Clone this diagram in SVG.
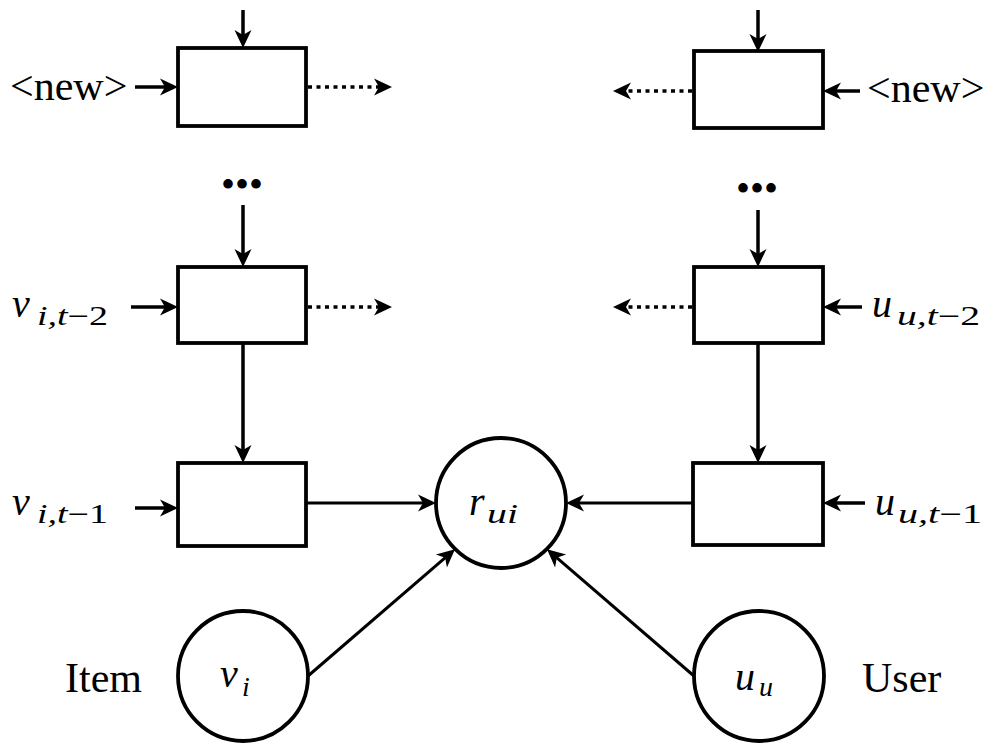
<svg xmlns="http://www.w3.org/2000/svg" width="999" height="752" viewBox="0 0 999 752">
<defs>
<marker id="ah" markerUnits="userSpaceOnUse" viewBox="-19 -10 20 20" refX="-9" refY="0" markerWidth="20" markerHeight="20" orient="auto">
<path d="M0,0 L-18,-8.5 L-13,0 L-18,8.5 Z" fill="#000"/>
</marker>
</defs>

<g id="connectors" fill="none" stroke="#000" stroke-width="3.5" marker-end="url(#ah)">
<path d="M243,10 V39"/>
<path d="M135,87 H169"/>
<path stroke-dasharray="4 4.5" d="M308,87 H383"/>
<path d="M758,10 V43"/>
<path d="M860,91 H832"/>
<path stroke-dasharray="4 4.5" d="M692,91 H622"/>
<path d="M243,205 V258"/>
<path d="M131,307 H169"/>
<path stroke-dasharray="4 4.5" d="M308,307 H383"/>
<path d="M758,210 V258"/>
<path d="M862,307 H832"/>
<path stroke-dasharray="4 4.5" d="M692,307 H622"/>
<path d="M243,343 V454"/>
<path d="M758,343 V454"/>
<path d="M135,508 H169"/>
<path stroke-width="3" d="M306,503 H427"/>
<path d="M865,503 H832"/>
<path stroke-width="3" d="M693,503 H575"/>
<path stroke-width="3" d="M308,676 L448.2,555.1"/>
<path stroke-width="3" d="M694,676 L553.8,555.1"/>
</g>

<g fill="#fff" stroke="#000" stroke-width="3.8">
<g id="box-item-new"><rect x="178" y="48" width="128" height="78"/></g>
<g id="box-user-new"><rect x="694" y="51" width="129" height="77"/></g>
<g id="box-item-t2"><rect x="178" y="267" width="128" height="76"/></g>
<g id="box-user-t2"><rect x="694" y="267" width="129" height="76"/></g>
<g id="box-item-t1"><rect x="178" y="463" width="128" height="83"/></g>
<g id="box-user-t1"><rect x="693" y="463" width="130" height="82"/></g>
</g>

<g id="node-rui"><circle cx="501" cy="503" r="65" fill="#fff" stroke="#000" stroke-width="3.8"/>
<text font-family="Liberation Serif" font-style="italic" font-size="40" x="469" y="515">r<tspan font-size="27" x="487" y="523" textLength="31" lengthAdjust="spacingAndGlyphs">ui</tspan></text></g>
<g id="node-vi"><circle cx="243" cy="676" r="65" fill="#fff" stroke="#000" stroke-width="3.8"/>
<text font-family="Liberation Serif" font-style="italic" font-size="40" x="220" y="687">v<tspan font-size="28" x="242" y="696">i</tspan></text></g>
<g id="node-uu"><circle cx="759" cy="676" r="65" fill="#fff" stroke="#000" stroke-width="3.8"/>
<text font-family="Liberation Serif" font-style="italic" font-size="40" x="735" y="690">u<tspan font-size="28" x="759" y="696">u</tspan></text></g>

<g id="labels" fill="#000">
<text font-family="Liberation Serif" font-size="42" x="10" y="100">&lt;new&gt;</text>
<text font-family="Liberation Serif" font-size="42" x="867" y="102">&lt;new&gt;</text>
<text font-family="Liberation Serif" font-size="40" text-anchor="middle" x="242" y="198">•••</text>
<text font-family="Liberation Serif" font-size="40" text-anchor="middle" x="757" y="202">•••</text>
<text font-family="Liberation Serif" font-style="italic" font-size="40" x="12" y="317">v<tspan font-size="27" x="37" y="325" textLength="71" lengthAdjust="spacingAndGlyphs">i,t<tspan font-style="normal">−2</tspan></tspan></text>
<text font-family="Liberation Serif" font-style="italic" font-size="40" x="872" y="317">u<tspan font-size="27" x="897" y="325" textLength="83" lengthAdjust="spacingAndGlyphs">u,t<tspan font-style="normal">−2</tspan></tspan></text>
<text font-family="Liberation Serif" font-style="italic" font-size="40" x="12" y="515">v<tspan font-size="27" x="37" y="523" textLength="71" lengthAdjust="spacingAndGlyphs">i,t<tspan font-style="normal">−1</tspan></tspan></text>
<text font-family="Liberation Serif" font-style="italic" font-size="40" x="875" y="515">u<tspan font-size="27" x="898" y="523" textLength="84" lengthAdjust="spacingAndGlyphs">u,t<tspan font-style="normal">−1</tspan></tspan></text>
<text font-family="Liberation Serif" font-size="42" x="65" y="692">Item</text>
<text font-family="Liberation Serif" font-size="42" x="862" y="692">User</text>
</g>
</svg>
